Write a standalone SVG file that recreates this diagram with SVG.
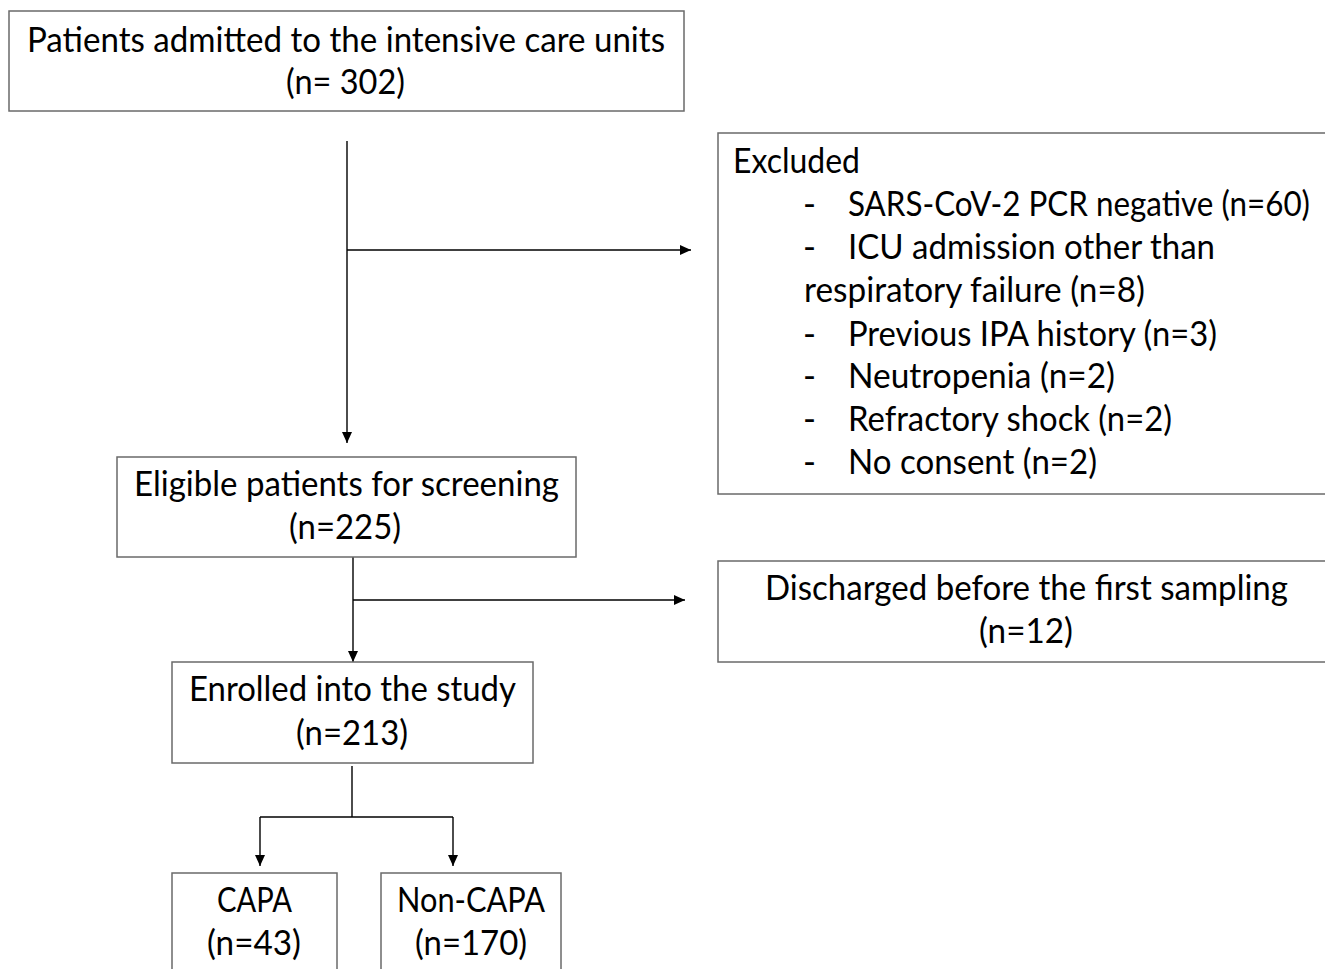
<svg xmlns="http://www.w3.org/2000/svg" width="1325" height="969" viewBox="0 0 1325 969">
<defs>
<marker id="ah" markerUnits="userSpaceOnUse" markerWidth="12" markerHeight="10" refX="11" refY="5" orient="auto">
<path d="M0,0 L11,5 L0,10 Z" fill="#000"/>
</marker>
<style>
.box{fill:#fff;stroke:#6a6a6a;stroke-width:1.5}
.t{font-family:Lato,"Open Sans","Liberation Sans",sans-serif;font-size:35px;fill:#000}
.c{stroke:#000;stroke-width:1.4;fill:none}
</style>
</defs>
<rect width="1325" height="969" fill="#fff"/>
<g id="connectors">
<line class="c" x1="347" y1="141" x2="347" y2="443" marker-end="url(#ah)"/>
<line class="c" x1="347" y1="250" x2="691" y2="250" marker-end="url(#ah)"/>
<line class="c" x1="353" y1="557" x2="353" y2="662" marker-end="url(#ah)"/>
<line class="c" x1="353" y1="600" x2="685" y2="600" marker-end="url(#ah)"/>
<line class="c" x1="352" y1="766" x2="352" y2="817"/>
<line class="c" x1="260" y1="817" x2="453" y2="817"/>
<line class="c" x1="260" y1="817" x2="260" y2="866" marker-end="url(#ah)"/>
<line class="c" x1="453" y1="817" x2="453" y2="866" marker-end="url(#ah)"/>
</g>
<g id="n1">
<rect class="box" x="9" y="11" width="675" height="100"/>
<text class="t" x="27" y="52" textLength="638" lengthAdjust="spacingAndGlyphs">Patients admitted to the intensive care units</text>
<text class="t" x="286" y="94" textLength="119" lengthAdjust="spacingAndGlyphs">(n= 302)</text>
</g>
<g id="excluded">
<rect class="box" x="718" y="133" width="620" height="361"/>
<text class="t" x="733" y="173" textLength="127" lengthAdjust="spacingAndGlyphs">Excluded</text>
<text class="t" x="803" y="216">-</text>
<text class="t" x="848" y="216" textLength="462" lengthAdjust="spacingAndGlyphs">SARS-CoV-2 PCR negative (n=60)</text>
<text class="t" x="803" y="259">-</text>
<text class="t" x="848" y="259" textLength="367" lengthAdjust="spacingAndGlyphs">ICU admission other than</text>
<text class="t" x="804" y="302" textLength="341" lengthAdjust="spacingAndGlyphs">respiratory failure (n=8)</text>
<text class="t" x="803" y="346">-</text>
<text class="t" x="848" y="346" textLength="369" lengthAdjust="spacingAndGlyphs">Previous IPA history (n=3)</text>
<text class="t" x="803" y="388">-</text>
<text class="t" x="848" y="388" textLength="267" lengthAdjust="spacingAndGlyphs">Neutropenia (n=2)</text>
<text class="t" x="803" y="431">-</text>
<text class="t" x="848" y="431" textLength="324" lengthAdjust="spacingAndGlyphs">Refractory shock (n=2)</text>
<text class="t" x="803" y="474">-</text>
<text class="t" x="848" y="474" textLength="249" lengthAdjust="spacingAndGlyphs">No consent (n=2)</text>
</g>
<g id="n2">
<rect class="box" x="117" y="457" width="459" height="100"/>
<text class="t" x="134" y="496" textLength="425" lengthAdjust="spacingAndGlyphs">Eligible patients for screening</text>
<text class="t" x="289" y="539" textLength="112" lengthAdjust="spacingAndGlyphs">(n=225)</text>
</g>
<g id="discharged">
<rect class="box" x="718" y="561" width="620" height="101"/>
<text class="t" x="765" y="600" textLength="523" lengthAdjust="spacingAndGlyphs">Discharged before the first sampling</text>
<text class="t" x="979" y="643" textLength="94" lengthAdjust="spacingAndGlyphs">(n=12)</text>
</g>
<g id="n3">
<rect class="box" x="172" y="662" width="361" height="101"/>
<text class="t" x="189" y="701" textLength="327" lengthAdjust="spacingAndGlyphs">Enrolled into the study</text>
<text class="t" x="296" y="745" textLength="112" lengthAdjust="spacingAndGlyphs">(n=213)</text>
</g>
<g id="capa">
<rect class="box" x="172" y="873" width="165" height="110"/>
<text class="t" x="217" y="912" textLength="75" lengthAdjust="spacingAndGlyphs">CAPA</text>
<text class="t" x="207" y="955" textLength="94" lengthAdjust="spacingAndGlyphs">(n=43)</text>
</g>
<g id="noncapa">
<rect class="box" x="381" y="873" width="180" height="110"/>
<text class="t" x="397" y="912" textLength="148" lengthAdjust="spacingAndGlyphs">Non-CAPA</text>
<text class="t" x="415" y="955" textLength="112" lengthAdjust="spacingAndGlyphs">(n=170)</text>
</g>
</svg>
